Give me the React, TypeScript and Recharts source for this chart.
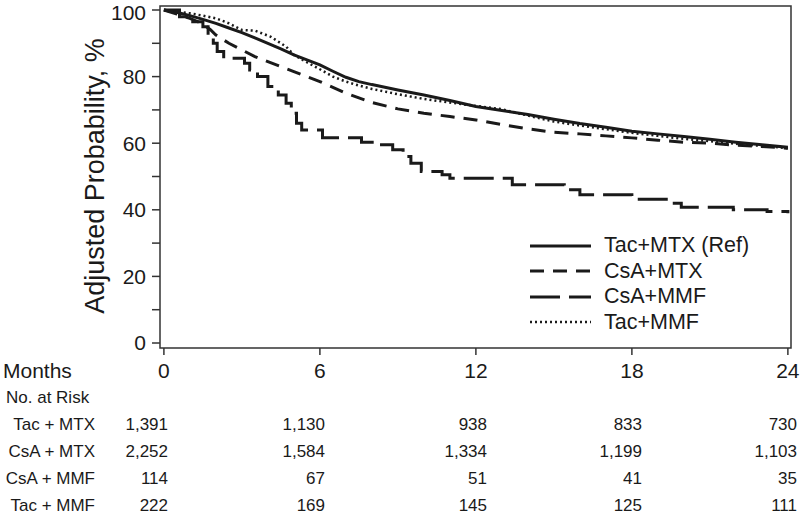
import { LineChart, Line, XAxis, YAxis, ReferenceArea } from "recharts";

// Months on the x axis, adjusted survival probability (%) on y
const tacMtxMonths = [0, 0.5, 1, 1.5, 2, 2.5, 3, 3.5, 4, 4.5, 5, 5.5, 6, 6.5, 7, 7.5, 8, 9, 10, 11, 12, 13, 14, 15, 16, 17, 18, 19, 20, 21, 22, 23, 24];
const tacMtxPct = [100, 99.3, 98.3, 97.2, 96, 94.6, 93.2, 91.6, 90, 88.3, 86.5, 85, 83.5, 81.6, 79.8, 78.5, 77.6, 76, 74.5, 72.8, 71, 69.8, 68.6, 67.2, 65.9, 64.8, 63.6, 62.8, 62, 61.2, 60.3, 59.5, 58.8];

const csaMtxMonths = [0, 0.5, 1, 1.5, 1.8, 2, 2.5, 3, 3.5, 4, 4.5, 5, 5.5, 6, 6.5, 7, 7.5, 8, 9, 10, 11, 12, 13, 14, 15, 16, 17, 18, 19, 20, 21, 22, 23, 24];
const csaMtxPct = [100, 98.8, 97.5, 95.8, 94, 92.5, 90, 88, 86, 84.5, 83, 81.5, 80, 78.5, 76.8, 75, 73.6, 72.2, 70.3, 69, 68, 67, 65.6, 64.3, 63.3, 62.8, 62.2, 61.6, 60.9, 60.3, 60, 59.4, 59, 58.5];

const csaMmfMonths = [0, 0.6, 1.0, 1.5, 1.7, 1.9, 2.05, 2.3, 3.1, 3.3, 3.6, 4.0, 4.4, 4.7, 4.9, 5.1, 5.3, 6.1, 7.6, 8.1, 8.8, 9.2, 9.5, 9.9, 10.7, 11.0, 13.4, 15.4, 16.0, 18.0, 19.5, 19.9, 21.9, 23.2, 24];
const csaMmfPct = [100, 98, 96.5, 95, 93, 90, 87.5, 85.5, 84, 82, 80, 77, 74.5, 72, 69, 66, 64, 61.6, 60.3, 59.5, 58, 56, 54, 51.5, 50.5, 49.5, 47.5, 46, 44.5, 43.2, 42, 40.8, 40, 39.5, 39];

const tacMmfMonths = [0, 0.5, 1, 1.5, 2, 2.5, 3, 3.5, 4.1, 4.7, 5, 5.5, 6, 6.5, 7, 7.5, 8, 9, 10, 11, 12, 13, 14, 15, 16, 17, 18, 19, 20, 21, 22, 23, 24];
const tacMmfPct = [100, 99.5, 99, 98.3, 97.5, 96, 94, 93.8, 92, 89, 86.5, 84.3, 82.2, 80, 78.5, 77.3, 76.3, 74.7, 73.3, 72.2, 71.2, 70.2, 68.3, 66.5, 65.3, 64.2, 63.1, 62.2, 61.3, 60.6, 59.8, 59.2, 58.5];

const xTicks = [0, 6, 12, 18, 24];
const yTicks = [0, 10, 20, 30, 40, 50, 60, 70, 80, 90, 100];

const riskGroups = ["Tac + MTX", "CsA + MTX", "CsA + MMF", "Tac + MMF"];
const riskTacMtx = ["1,391", "1,130", "938", "833", "730"];
const riskCsaMtx = ["2,252", "1,584", "1,334", "1,199", "1,103"];
const riskCsaMmf = ["114", "67", "51", "41", "35"];
const riskTacMmf = ["222", "169", "145", "125", "111"];

const FONT = "'Liberation Sans', Arial, Helvetica, sans-serif";
const INK = "#1a1a1a";

const toPoints = (months: number[], pct: number[]) => months.map((m, i) => ({ m, p: pct[i] }));

const series = [
  { name: "Tac+MTX (Ref)", data: toPoints(tacMtxMonths, tacMtxPct), dash: undefined, width: 3, type: "linear" },
  { name: "CsA+MTX", data: toPoints(csaMtxMonths, csaMtxPct), dash: "14 9", width: 3, type: "linear" },
  { name: "CsA+MMF", data: toPoints(csaMmfMonths, csaMmfPct), dash: "30 9", width: 3, type: "stepAfter" },
  { name: "Tac+MMF", data: toPoints(tacMmfMonths, tacMmfPct), dash: "2 3", width: 2.5, type: "linear" },
];

const X_DOMAIN: [number, number] = [-0.15, 24.12];
const Y_DOMAIN: [number, number] = [-1.5, 101.2];

// right edges of the at-risk columns, px
const riskColRight = [168, 325, 487, 642, 797];
const riskRowY = [424, 451, 478, 505];

function LegendBox() {
  return (
    <div style={{ position: "absolute", left: 528, top: 233, fontFamily: FONT, color: INK }}>
      {series.map((s) => (
        <div key={s.name} style={{ display: "flex", alignItems: "center", height: 25.5 }}>
          <svg width={76} height={10}>
            <line x1={2} x2={63} y1={5} y2={5} stroke={INK} strokeWidth={s.width} strokeDasharray={s.dash} />
          </svg>
          <span style={{ fontSize: 21.5, lineHeight: "25px", whiteSpace: "nowrap" }}>{s.name}</span>
        </div>
      ))}
    </div>
  );
}

export default function App() {
  const riskRows = [riskTacMtx, riskCsaMtx, riskCsaMmf, riskTacMmf];
  const text: React.CSSProperties = { position: "absolute", fontFamily: FONT, color: INK, whiteSpace: "nowrap", lineHeight: 1 };
  return (
    <div style={{ position: "absolute", left: 0, top: 0, width: 800, height: 527, background: "#fff" }}>
      <LineChart width={800} height={527} margin={{ top: 6, right: 9, left: 100, bottom: 139 }}>
        <XAxis
          type="number"
          dataKey="m"
          domain={X_DOMAIN}
          ticks={xTicks}
          allowDataOverflow
          axisLine={false}
          tickSize={7}
          tickMargin={8}
          height={40}
          tickLine={{ stroke: "#333", strokeWidth: 1.5 }}
          tick={{ fill: INK, fontSize: 21, fontFamily: FONT }}
        />
        <YAxis
          type="number"
          dataKey="p"
          domain={Y_DOMAIN}
          ticks={yTicks}
          allowDataOverflow
          axisLine={false}
          width={60}
          tickSize={8}
          tickMargin={6}
          tickFormatter={(v: number) => (v % 20 === 0 ? String(v) : "")}
          tickLine={{ stroke: "#333", strokeWidth: 1.5 }}
          tick={{ fill: INK, fontSize: 21, fontFamily: FONT }}
        />
        <ReferenceArea x1={X_DOMAIN[0]} x2={X_DOMAIN[1]} y1={Y_DOMAIN[0]} y2={Y_DOMAIN[1]} fill="none" stroke="#333" strokeWidth={1.5} />
        {series.map((s) => (
          <Line
            key={s.name}
            name={s.name}
            data={s.data}
            dataKey="p"
            type={s.type as "linear" | "stepAfter"}
            stroke={INK}
            strokeWidth={s.width}
            strokeDasharray={s.dash}
            dot={false}
            activeDot={false}
            isAnimationActive={false}
          />
        ))}
      </LineChart>

      <LegendBox />
      <div style={{ ...text, left: 95, top: 176, fontSize: 27, transform: "translate(-50%, -50%) rotate(-90deg)" }}>
        Adjusted Probability, %
      </div>
      <div style={{ ...text, left: 3, top: 360, fontSize: 21 }}>Months</div>
      <div style={{ ...text, left: 6, top: 389, fontSize: 17 }}>No. at Risk</div>
      {riskGroups.map((g, r) => (
        <div key={g}>
          <div style={{ ...text, right: 800 - 95, top: riskRowY[r] - 8, fontSize: 17 }}>{g}</div>
          {riskRows[r].map((n, c) => (
            <div key={c} style={{ ...text, right: 800 - riskColRight[c], top: riskRowY[r] - 8, fontSize: 17 }}>
              {n}
            </div>
          ))}
        </div>
      ))}
    </div>
  );
}
